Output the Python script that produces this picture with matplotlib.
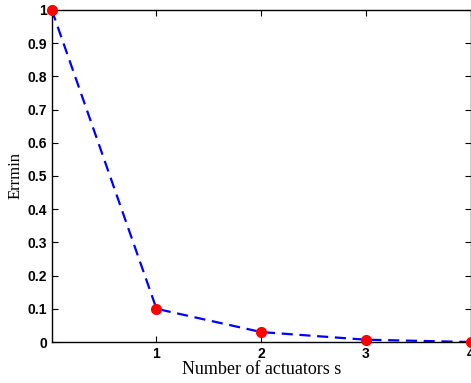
import numpy as np
import matplotlib
matplotlib.use("Agg")
import matplotlib.pyplot as plt

# data
actuators = [0, 1, 2, 3, 4]
errmin = [1.0, 0.1, 0.03, 0.007, 0.0]
xticks = [1, 2, 3, 4]
yticks = [0, 0.1, 0.2, 0.3, 0.4, 0.5, 0.6, 0.7, 0.8, 0.9, 1]

fig = plt.figure(figsize=(4.71, 3.83), dpi=100)
ax = fig.add_axes([0.110, 0.107, 0.889, 0.867])

ax.plot(actuators, errmin, "b--", lw=1.6, dashes=(5, 3))
ax.plot(actuators, errmin, "o", color="red", ms=7, clip_on=False, zorder=3)

ax.set_xlim(0, 4)
ax.set_ylim(0, 1)
ax.set_xticks(xticks)
ax.set_yticks(yticks)
ax.set_xticklabels([str(t) for t in xticks])
ax.set_yticklabels(["0"] + [f"{t:g}" for t in yticks[1:-1]] + ["1"])
ax.tick_params(direction="in", top=True, right=True, length=4, width=0.8)
for lab in ax.get_xticklabels() + ax.get_yticklabels():
    lab.set_fontfamily("Liberation Sans")
    lab.set_fontweight("bold")
    lab.set_fontsize(10)

ax.set_xlabel("Number of actuators s", family="Liberation Serif", fontsize=13, labelpad=0)
ax.set_ylabel("Errmin", family="Liberation Serif", fontsize=12, labelpad=3)
for sp in ax.spines.values():
    sp.set_linewidth(1.0)

fig.savefig("out.png", dpi=100)
